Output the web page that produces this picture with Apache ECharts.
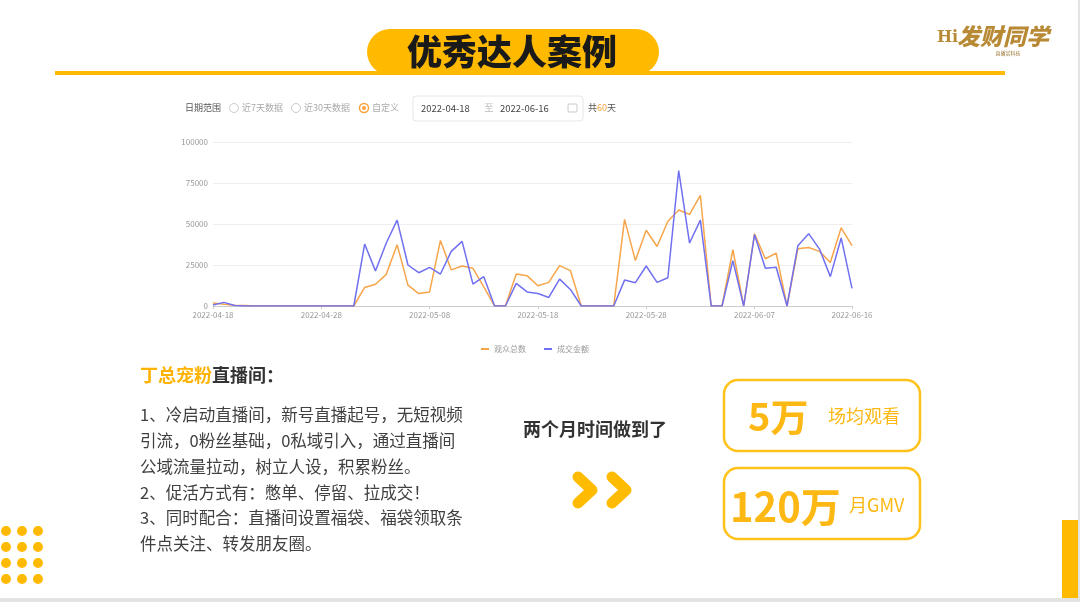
<!DOCTYPE html>
<html><head><meta charset="utf-8">
<script src="https://cdn.jsdelivr.net/npm/echarts@6/dist/echarts.min.js"></script>
<style>html,body{margin:0;padding:0;background:#fff}#c{width:1080px;height:602px}</style>
</head><body><div id="c"></div>
<script>
var dates = ['2022-04-18','2022-04-19','2022-04-20','2022-04-21','2022-04-22','2022-04-23','2022-04-24','2022-04-25','2022-04-26','2022-04-27',
'2022-04-28','2022-04-29','2022-04-30','2022-05-01','2022-05-02','2022-05-03','2022-05-04','2022-05-05','2022-05-06','2022-05-07',
'2022-05-08','2022-05-09','2022-05-10','2022-05-11','2022-05-12','2022-05-13','2022-05-14','2022-05-15','2022-05-16','2022-05-17',
'2022-05-18','2022-05-19','2022-05-20','2022-05-21','2022-05-22','2022-05-23','2022-05-24','2022-05-25','2022-05-26','2022-05-27',
'2022-05-28','2022-05-29','2022-05-30','2022-05-31','2022-06-01','2022-06-02','2022-06-03','2022-06-04','2022-06-05','2022-06-06',
'2022-06-07','2022-06-08','2022-06-09','2022-06-10','2022-06-11','2022-06-12','2022-06-13','2022-06-14','2022-06-15','2022-06-16'];
var viewers = [1800,1000,500,300,0,0,0,0,0,0,
0,0,0,0,11300,13300,19300,37400,12700,7600,
8600,40000,22000,24400,23000,11700,0,0,19500,18500,
12300,14400,24600,21600,0,0,0,0,52800,27700,
46200,36300,51700,58500,55800,67500,0,0,34300,0,
44100,28800,32200,0,34900,35700,33300,26500,47700,36800];
var gmv = [600,2200,300,0,0,0,0,0,0,0,
0,0,0,0,37800,21400,38400,52400,25000,20300,
23600,19500,33300,39400,13300,17900,0,0,13800,8600,
7600,5200,16400,10100,0,0,0,0,15800,14200,
24400,14400,17200,82500,38400,52400,0,0,27700,0,
43500,23000,23600,0,36800,44100,34700,17900,41500,10700];
var seriesNames = ['观众总数','成交金额'];
var yTicks = {min:0, max:100000, interval:25000};

var CJK = '"Noto Sans CJK SC", "Noto Sans", sans-serif';
var chart = echarts.init(document.getElementById('c'));
function lbl(i){ return i % 10 === 0 || i === dates.length - 1; }

var graphic = [
  {type:'rect', shape:{x:55,y:71,width:950,height:4}, style:{fill:'#FFBA00'}},
  {type:'rect', shape:{x:367,y:29,width:292,height:46,r:23}, style:{fill:'#FFBA00'}},
  {type:'text', style:{x:512,y:52,text:'优秀达人案例',fill:'#1a1a1a',font:'900 35px '+CJK,textAlign:'center',textVerticalAlign:'middle'}},
  {type:'text', style:{x:937,y:38,text:'Hi',fill:'#B98A35',font:'bold 16px "DejaVu Serif", serif',textAlign:'left',textVerticalAlign:'middle'}},
  {type:'text', style:{x:957,y:36,text:'发财同学',fill:'#B98A35',font:'italic 900 23px '+CJK,textAlign:'left',textVerticalAlign:'middle'}},
  {type:'text', style:{x:1008,y:53,text:'直播赏科技',fill:'#9A7430',font:'5px '+CJK,textAlign:'center',textVerticalAlign:'middle'}},
  {type:'text', style:{x:185,y:108,text:'日期范围',fill:'#555',font:'9px '+CJK,textAlign:'left',textVerticalAlign:'middle'}},
  {type:'circle', shape:{cx:234,cy:108,r:4.5}, style:{fill:'#fff',stroke:'#ccc',lineWidth:1}},
  {type:'text', style:{x:242,y:108,text:'近7天数据',fill:'#aaa',font:'9px '+CJK,textAlign:'left',textVerticalAlign:'middle'}},
  {type:'circle', shape:{cx:296,cy:108,r:4.5}, style:{fill:'#fff',stroke:'#ccc',lineWidth:1}},
  {type:'text', style:{x:304,y:108,text:'近30天数据',fill:'#aaa',font:'9px '+CJK,textAlign:'left',textVerticalAlign:'middle'}},
  {type:'circle', shape:{cx:364,cy:108,r:4.5}, style:{fill:'#fff',stroke:'#F7A23B',lineWidth:1.5}},
  {type:'circle', shape:{cx:364,cy:108,r:2}, style:{fill:'#F7A23B'}},
  {type:'text', style:{x:372,y:108,text:'自定义',fill:'#aaa',font:'9px '+CJK,textAlign:'left',textVerticalAlign:'middle'}},
  {type:'rect', shape:{x:413,y:96,width:170,height:25,r:3}, style:{fill:'#fff',stroke:'#e6e6e6',lineWidth:1}},
  {type:'text', style:{x:421,y:108,text:'2022-04-18',fill:'#444',font:'9.5px '+CJK,textAlign:'left',textVerticalAlign:'middle'}},
  {type:'text', style:{x:489,y:108,text:'至',fill:'#bbb',font:'9px '+CJK,textAlign:'center',textVerticalAlign:'middle'}},
  {type:'text', style:{x:500,y:108,text:'2022-06-16',fill:'#444',font:'9.5px '+CJK,textAlign:'left',textVerticalAlign:'middle'}},
  {type:'rect', shape:{x:568,y:104,width:9,height:8,r:1}, style:{fill:'none',stroke:'#bbb',lineWidth:0.8}},
  {type:'text', style:{x:588,y:108,text:'{a|共}{b|60}{a|天}',font:'9px '+CJK,textAlign:'left',textVerticalAlign:'middle',
     rich:{a:{fill:'#555',font:'9px '+CJK},b:{fill:'#F7A23B',font:'9px '+CJK}}}},
  {type:'text', style:{x:140,y:375,text:'{o|丁总宠粉}{d|直播间：}',textAlign:'left',textVerticalAlign:'middle',
     rich:{o:{fill:'#FFB300',font:'bold 18px '+CJK},d:{fill:'#333',font:'bold 18px '+CJK}}}},
  {type:'text', style:{x:140,y:402,text:'1、冷启动直播间，新号直播起号，无短视频\n引流，0粉丝基础，0私域引入，通过直播间\n公域流量拉动，树立人设，积累粉丝。\n2、促活方式有：憋单、停留、拉成交！\n3、同时配合：直播间设置福袋、福袋领取条\n件点关注、转发朋友圈。',
     fill:'#404040',font:'16.5px '+CJK,lineHeight:25.8,textAlign:'left',textVerticalAlign:'top'}},
  {type:'text', style:{x:523,y:429,text:'两个月时间做到了',fill:'#333',font:'bold 18px '+CJK,textAlign:'left',textVerticalAlign:'middle'}},
  {type:'polyline', shape:{points:[[578,477],[592,490],[578,503]]}, style:{stroke:'#FFBB00',lineWidth:11,lineCap:'round',lineJoin:'round',fill:'none'}},
  {type:'polyline', shape:{points:[[612,477],[626,490],[612,503]]}, style:{stroke:'#FFBB00',lineWidth:11,lineCap:'round',lineJoin:'round',fill:'none'}},
  {type:'rect', shape:{x:724,y:380,width:196,height:71,r:14}, style:{fill:'#fff',stroke:'#FFC21A',lineWidth:2.5}},
  {type:'rect', shape:{x:724,y:468,width:196,height:71,r:14}, style:{fill:'#fff',stroke:'#FFC21A',lineWidth:2.5}},
  {type:'text', style:{x:748,y:417,text:'5万',fill:'#FDB813',font:'bold 38px '+CJK,textAlign:'left',textVerticalAlign:'middle'}},
  {type:'text', style:{x:828,y:416,text:'场均观看',fill:'#FDB813',font:'18px '+CJK,textAlign:'left',textVerticalAlign:'middle'}},
  {type:'text', style:{x:730,y:507,text:'120万',fill:'#FDB813',font:'bold 40px '+CJK,textAlign:'left',textVerticalAlign:'middle'}},
  {type:'text', style:{x:849,y:505,text:'月GMV',fill:'#FDB813',font:'18px '+CJK,textAlign:'left',textVerticalAlign:'middle'}},
  {type:'rect', shape:{x:1062,y:520,width:16,height:80}, style:{fill:'#FFBA00'}},
  {type:'rect', shape:{x:0,y:598,width:1080,height:4}, style:{fill:'#e3e3e3'}},
  {type:'rect', shape:{x:1078,y:0,width:2,height:602}, style:{fill:'#e3e3e3'}}
];
var dx=[6,22,38], dy=[531,547,563,579];
dx.forEach(function(x){dy.forEach(function(y){graphic.push({type:'circle',shape:{cx:x,cy:y,r:5},style:{fill:'#FFBA00'}});});});

chart.setOption({
  animation:false,
  backgroundColor:'#fff',
  grid:{left:213,right:228,top:142,bottom:296,containLabel:false},
  legend:{data:seriesNames,left:476,top:340,icon:'rect',itemWidth:8,itemHeight:2,itemGap:18,
    textStyle:{color:'#999',fontSize:8,fontFamily:CJK}},
  xAxis:{type:'category',data:dates,boundaryGap:false,
    axisLine:{lineStyle:{color:'#ccc'}},
    axisTick:{show:true,interval:function(i){return lbl(i);},length:3,lineStyle:{color:'#ccc'}},
    axisLabel:{interval:function(i){return lbl(i);},color:'#999',fontSize:8,margin:5,fontFamily:CJK}},
  yAxis:{type:'value',min:yTicks.min,max:yTicks.max,interval:yTicks.interval,
    axisLine:{show:false},axisTick:{show:false},
    axisLabel:{color:'#999',fontSize:8,margin:5,fontFamily:CJK,formatter:function(v){return String(v);}},
    splitLine:{lineStyle:{color:'#eeeeee'}}},
  series:[
    {name:seriesNames[0],type:'line',data:viewers,showSymbol:false,symbol:'none',lineStyle:{width:1.5,color:'#F7A54A'},itemStyle:{color:'#F7A54A'}},
    {name:seriesNames[1],type:'line',data:gmv,showSymbol:false,symbol:'none',lineStyle:{width:1.5,color:'#7070F0'},itemStyle:{color:'#7070F0'}}
  ],
  graphic:graphic
});
</script></body></html>
